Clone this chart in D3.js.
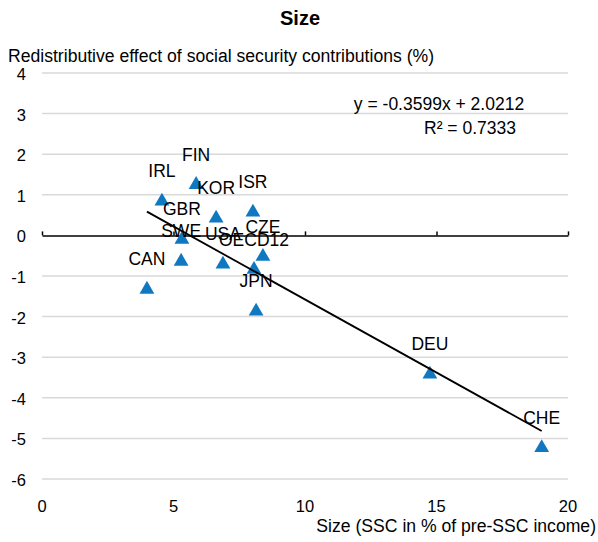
<!DOCTYPE html>
<html lang="en">
<head>
    <meta charset="UTF-8">
    <title>Size</title>
    <script src="https://d3js.org/d3.v7.min.js"></script>
    <style>
        body {
            margin: 0;
            background: #fff;
            font-family: 'Liberation Sans', Arial, sans-serif;
        }
        svg { display: block; }
        .grid line { stroke: #d9d9d9; stroke-width: 1.5; }
        .tick-label { font-size: 16.5px; fill: #000; }
        .pt-label { font-size: 17.5px; fill: #000; text-anchor: middle; }
    </style>
</head>
<body>
    <svg width="598" height="542"></svg>

    <script>
        const countries = ['FIN', 'IRL', 'GBR', 'SWE', 'KOR', 'ISR', 'CZE', 'USA', 'OECD12', 'JPN', 'CAN', 'DEU', 'CHE'];
        const sizeValues = [5.86, 4.56, 5.32, 5.29, 6.62, 8.02, 8.40, 6.88, 8.06, 8.14, 3.99, 14.75, 19.0];
        const effectValues = [1.25, 0.84, -0.10, -0.64, 0.42, 0.57, -0.52, -0.71, -0.84, -1.87, -1.33, -3.42, -5.23];
        const xTicks = [0, 5, 10, 15, 20];
        const yTicks = [4, 3, 2, 1, 0, -1, -2, -3, -4, -5, -6];
        const slope = -0.3599;
        const intercept = 2.0212;

        const data = countries.map((c, i) => ({ name: c, x: sizeValues[i], y: effectValues[i] }));

        const svg = d3.select('svg');

        const x = d3.scaleLinear().domain([0, 20]).range([42, 568]);
        const y = d3.scaleLinear().domain([-6, 4]).range([479, 73]);

        // gridlines
        svg.append('g')
            .attr('class', 'grid')
            .selectAll('line')
            .data(yTicks.filter(d => d !== 0))
            .enter().append('line')
            .attr('x1', x(0))
            .attr('x2', x(20))
            .attr('y1', d => y(d))
            .attr('y2', d => y(d));

        // y tick labels
        svg.append('g')
            .selectAll('text')
            .data(yTicks)
            .enter().append('text')
            .attr('class', 'tick-label')
            .attr('x', 26)
            .attr('y', d => y(d) + 7)
            .attr('text-anchor', 'end')
            .text(d => d);

        // x tick labels
        svg.append('g')
            .selectAll('text')
            .data(xTicks)
            .enter().append('text')
            .attr('class', 'tick-label')
            .attr('x', d => x(d))
            .attr('y', 512)
            .attr('text-anchor', 'middle')
            .text(d => d);

        // zero axis with small upward ticks
        const axis = svg.append('g')
            .attr('transform', `translate(0,${y(0)})`)
            .call(d3.axisTop(x).tickValues(xTicks).tickSize(4).tickSizeOuter(0).tickFormat(''));
        axis.select('.domain').attr('stroke', '#000').attr('stroke-width', 1.5);
        axis.selectAll('.tick line').attr('stroke', '#000').attr('stroke-width', 1.5);

        // points
        const tri = d3.symbol().type(d3.symbolTriangle).size(95);
        svg.append('g')
            .selectAll('path')
            .data(data)
            .enter().append('path')
            .attr('d', tri)
            .attr('transform', d => `translate(${x(d.x)},${y(d.y)})`)
            .attr('fill', '#0f78c0');

        // trend line
        const xr = d3.extent(sizeValues);
        svg.append('line')
            .attr('x1', x(xr[0]))
            .attr('y1', y(slope * xr[0] + intercept))
            .attr('x2', x(xr[1]))
            .attr('y2', y(slope * xr[1] + intercept))
            .attr('stroke', '#000')
            .attr('stroke-width', 1.8);

        // point labels
        svg.append('g')
            .selectAll('text')
            .data(data)
            .enter().append('text')
            .attr('class', 'pt-label')
            .attr('x', d => x(d.x))
            .attr('y', d => y(d.y) - 24)
            .text(d => d.name);

        // equation
        svg.append('text')
            .attr('x', 439).attr('y', 110)
            .attr('text-anchor', 'middle')
            .style('font-size', '17.5px')
            .text('y = -0.3599x + 2.0212');
        svg.append('text')
            .attr('x', 470).attr('y', 134)
            .attr('text-anchor', 'middle')
            .style('font-size', '17.5px')
            .text('R² = 0.7333');

        // titles
        svg.append('text')
            .attr('x', 300).attr('y', 25)
            .attr('text-anchor', 'middle')
            .style('font-size', '20px')
            .style('font-weight', 'bold')
            .text('Size');

        svg.append('text')
            .attr('x', 8).attr('y', 62)
            .style('font-size', '17.6px')
            .text('Redistributive effect of social security contributions (%)');

        svg.append('text')
            .attr('x', 596).attr('y', 532)
            .attr('text-anchor', 'end')
            .style('font-size', '17.6px')
            .text('Size (SSC in % of pre-SSC income)');
    </script>
</body>
</html>
